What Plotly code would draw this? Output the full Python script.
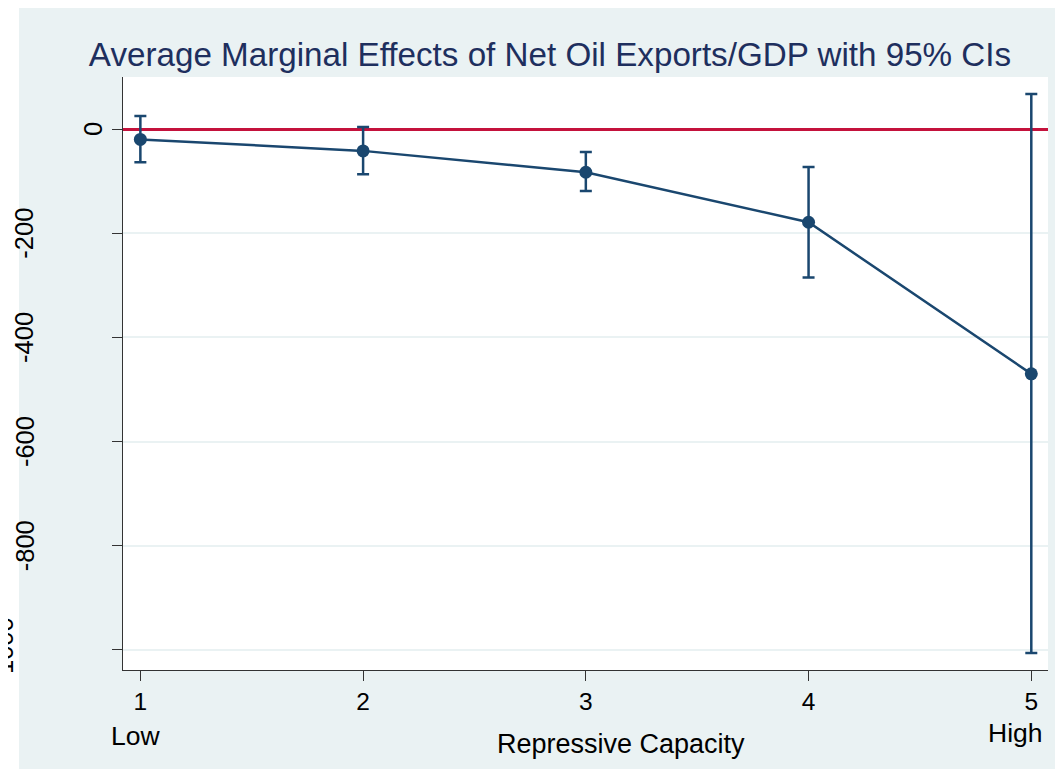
import plotly.graph_objects as go

# ---- data ----
capacity = [1, 2, 3, 4, 5]
capacity_labels = ["1", "2", "3", "4", "5"]
ame = [-20, -42, -83, -179, -470]
ci_upper = [25, 4, -44, -73, 67]
ci_lower = [-64, -87, -119, -285, -1006]
y_ticks = [0, -200, -400, -600, -800, -1000]
y_tick_labels = ["0", "-200", "-400", "-600", "-800", "-1000"]

title_text = "Average Marginal Effects of Net Oil Exports/GDP with 95% CIs"
x_title = "Repressive Capacity"

NAVY = "#1A476F"
RED = "#C4123C"
BG = "#EAF2F3"
AXIS = "#333333"
FONT = "Liberation Sans, Arial, sans-serif"

OFF = 8  # page body margin
W, H = 1063 - OFF, 769 - OFF
L, R, T, B = 123 - OFF, 15, 77 - OFF, 99
PW, PH = W - L - R, H - T - B


def px_x(px):
    return (px - OFF - L) / PW


def px_y(py):
    return (H - B - (py - OFF)) / PH


err_plus = [u - m for u, m in zip(ci_upper, ame)]
err_minus = [m - lo for m, lo in zip(ame, ci_lower)]

fig = go.Figure()
fig.add_trace(go.Scatter(
    x=capacity, y=ame, mode="lines+markers",
    line=dict(color=NAVY, width=2.5),
    marker=dict(color=NAVY, size=13),
    error_y=dict(type="data", symmetric=False, array=err_plus, arrayminus=err_minus,
                 color=NAVY, thickness=2.5, width=6),
    showlegend=False, hoverinfo="x+y",
))

shapes = [
    dict(type="rect", xref="paper", yref="paper",
         x0=px_x(19), x1=px_x(1075), y0=px_y(780), y1=px_y(6),
         fillcolor=BG, line=dict(width=0), layer="below"),
    dict(type="rect", xref="paper", yref="paper", x0=0, x1=1, y0=0, y1=1,
         fillcolor="white", line=dict(width=0), layer="below"),
]

annotations = []
# y tick labels (rotated, placed like the original)
label_x_px = {"0": 93, "-200": 24.5, "-400": 24.5, "-600": 24.5, "-800": 24.5, "-1000": 3.5}
for v, t in zip(y_ticks, y_tick_labels):
    annotations.append(dict(
        x=px_x(label_x_px[t]), xref="paper", y=v, yref="y",
        text=t, textangle=-90, showarrow=False,
        xanchor="center", yanchor="middle",
        font=dict(family=FONT, size=25.5, color="black")))

# second-line category labels
annotations.append(dict(x=capacity[0], xref="x", y=px_y(736), yref="paper",
                        text="Low", showarrow=False, xshift=-5,
                        xanchor="center", yanchor="middle",
                        font=dict(family=FONT, size=26.5, color="black")))
annotations.append(dict(x=capacity[-1], xref="x", y=px_y(733), yref="paper",
                        text="High", showarrow=False, xshift=-16,
                        xanchor="center", yanchor="middle",
                        font=dict(family=FONT, size=26.5, color="black")))
# x axis title
annotations.append(dict(x=px_x(620.5), xref="paper", y=px_y(744), yref="paper",
                        text=x_title, showarrow=False,
                        xanchor="center", yanchor="middle",
                        font=dict(family=FONT, size=27, color="black")))

fig.update_layout(
    width=W, height=H,
    margin=dict(l=L, r=R, t=T, b=B, pad=0),
    paper_bgcolor="white", plot_bgcolor="white",
    font=dict(family=FONT, color="black"),
    title=dict(text=title_text, x=(550 - OFF) / W, xanchor="center", xref="container",
               y=1 - (54.5 - OFF) / H, yanchor="middle", yref="container",
               font=dict(family=FONT, size=33.2, color="#1E2F5E")),
    shapes=shapes,
    annotations=annotations,
    xaxis=dict(range=[0.922, 5.075], tickmode="array", tickvals=capacity,
               ticktext=capacity_labels, ticks="outside", ticklen=10, tickwidth=1,
               tickcolor=AXIS, showline=True, linecolor=AXIS, linewidth=1,
               showgrid=False, zeroline=False,
               tickfont=dict(family=FONT, size=24.5, color="black")),
    yaxis=dict(range=[-1038.4, 99.8], tickmode="array", tickvals=y_ticks,
               showticklabels=False, ticks="outside", ticklen=10, tickwidth=1,
               tickcolor=AXIS, showline=True, linecolor=AXIS, linewidth=1,
               showgrid=True, gridcolor=BG, gridwidth=1.5,
               zeroline=True, zerolinecolor=RED, zerolinewidth=2.5),
)

fig.write_html("out.html")
